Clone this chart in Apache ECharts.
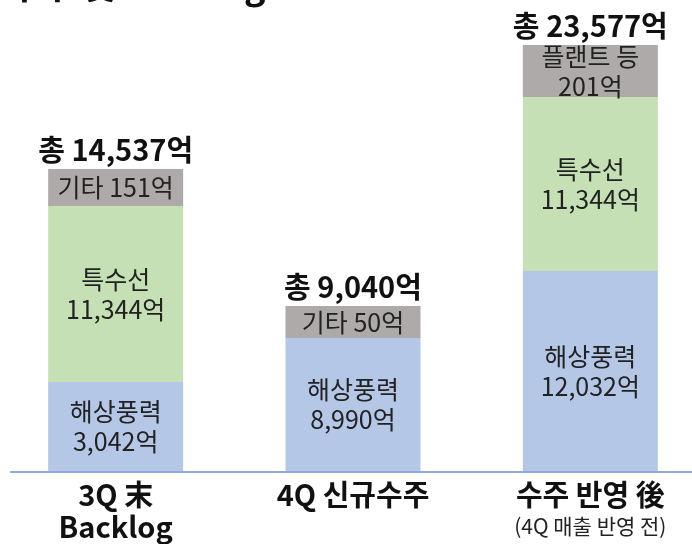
<!DOCTYPE html>
<html>

<head>
    <meta charset="utf-8">
    <title>수주 및 Backlog</title>
    <script src="https://cdn.jsdelivr.net/npm/echarts@6/dist/echarts.min.js"></script>
    <style>
        html,
        body {
            margin: 0;
            padding: 0;
            background: #fff;
        }

        #chart {
            width: 692px;
            height: 544px;
        }
    </style>
</head>

<body>
    <div id="chart"></div>
    <script>
        // 카테고리 (x축)
        const categories = ['3Q 末 Backlog', '4Q 신규수주', '수주 반영 後'];
        // 막대 높이 (원본 그림의 시각적 높이 기준, 실제 금액과 비례하지 않음)
        const windHeight = [89, 133, 200];
        const shipHeight = [176, null, 174];
        const etcHeight = [37, 32, 52];
        // 라벨 텍스트
        const windLabels = ['해상풍력\n3,042억', '해상풍력\n8,990억', '해상풍력\n12,032억'];
        const shipLabels = ['특수선\n11,344억', '', '특수선\n11,344억'];
        const etcLabels = ['기타 151억', '기타 50억', '플랜트 등\n201억'];
        const totalLabels = ['총 14,537억', '총 9,040억', '총 23,577억'];

        const FONT = '"Noto Sans CJK KR", "Noto Sans", sans-serif';

        const innerLabel = (texts) => ({
            show: true,
            position: 'inside',
            fontFamily: FONT,
            fontSize: 25,
            lineHeight: 30,
            color: '#222',
            formatter: p => texts[p.dataIndex]
        });

        const chart = echarts.init(document.getElementById('chart'));

        const option = {
            animation: false,
            title: {
                text: '수주 및 Backlog',
                left: 3,
                top: -38,
                textStyle: { fontFamily: FONT, fontSize: 36, fontWeight: 'bold', color: '#111' }
            },
            grid: [
                { left: -3, right: -17, top: 0, bottom: 73, outerBoundsMode: 'none', containLabel: false },
                // 축선만 그리는 보조 grid
                { left: 11, right: 0, top: 0, bottom: 72, outerBoundsMode: 'none', containLabel: false }
            ],
            xAxis: [{
                type: 'category',
                gridIndex: 0,
                data: categories,
                axisLine: { show: false },
                axisTick: { show: false },
                axisLabel: {
                    margin: 8,
                    interval: 0,
                    hideOverlap: false,
                    fontFamily: FONT,
                    color: '#111',
                    formatter: function (v, i) {
                        if (i === 0) return '{a|3Q 末}\n{a|Backlog}';
                        if (i === 1) return '{a|4Q 신규수주}';
                        return '{a|수주 반영 後}\n{b|(4Q 매출 반영 전)}';
                    },
                    rich: {
                        a: { fontFamily: FONT, fontSize: 29, fontWeight: 'bold', lineHeight: 32, color: '#111' },
                        b: { fontFamily: FONT, fontSize: 21, lineHeight: 30, color: '#222' }
                    }
                }
            }, {
                type: 'category',
                gridIndex: 1,
                data: [''],
                axisLine: { show: true, lineStyle: { color: '#8faadc', width: 2 } },
                axisTick: { show: false },
                axisLabel: { show: false }
            }],
            yAxis: [
                { type: 'value', gridIndex: 0, min: 0, max: 471, show: false },
                { type: 'value', gridIndex: 1, min: 0, max: 1, show: false }
            ],
            series: [{
                name: '해상풍력',
                type: 'bar',
                stack: 'total',
                barWidth: 135,
                data: windHeight,
                itemStyle: { color: '#b4c7e7' },
                label: innerLabel(windLabels)
            }, {
                name: '특수선',
                type: 'bar',
                stack: 'total',
                barWidth: 135,
                data: shipHeight,
                itemStyle: { color: '#c5e0b4' },
                label: innerLabel(shipLabels)
            }, {
                name: '기타',
                type: 'bar',
                stack: 'total',
                barWidth: 135,
                data: etcHeight,
                itemStyle: { color: '#aeaaaa' },
                label: innerLabel(etcLabels)
            }, {
                name: '합계',
                type: 'bar',
                stack: 'total',
                barWidth: 135,
                data: [0, 0, 0],
                itemStyle: { color: 'transparent' },
                label: {
                    show: true,
                    position: 'top',
                    distance: 5,
                    fontFamily: FONT,
                    fontSize: 29,
                    fontWeight: 'bold',
                    color: '#111',
                    formatter: p => totalLabels[p.dataIndex]
                }
            }]
        };

        chart.setOption(option);
    </script>
</body>

</html>
